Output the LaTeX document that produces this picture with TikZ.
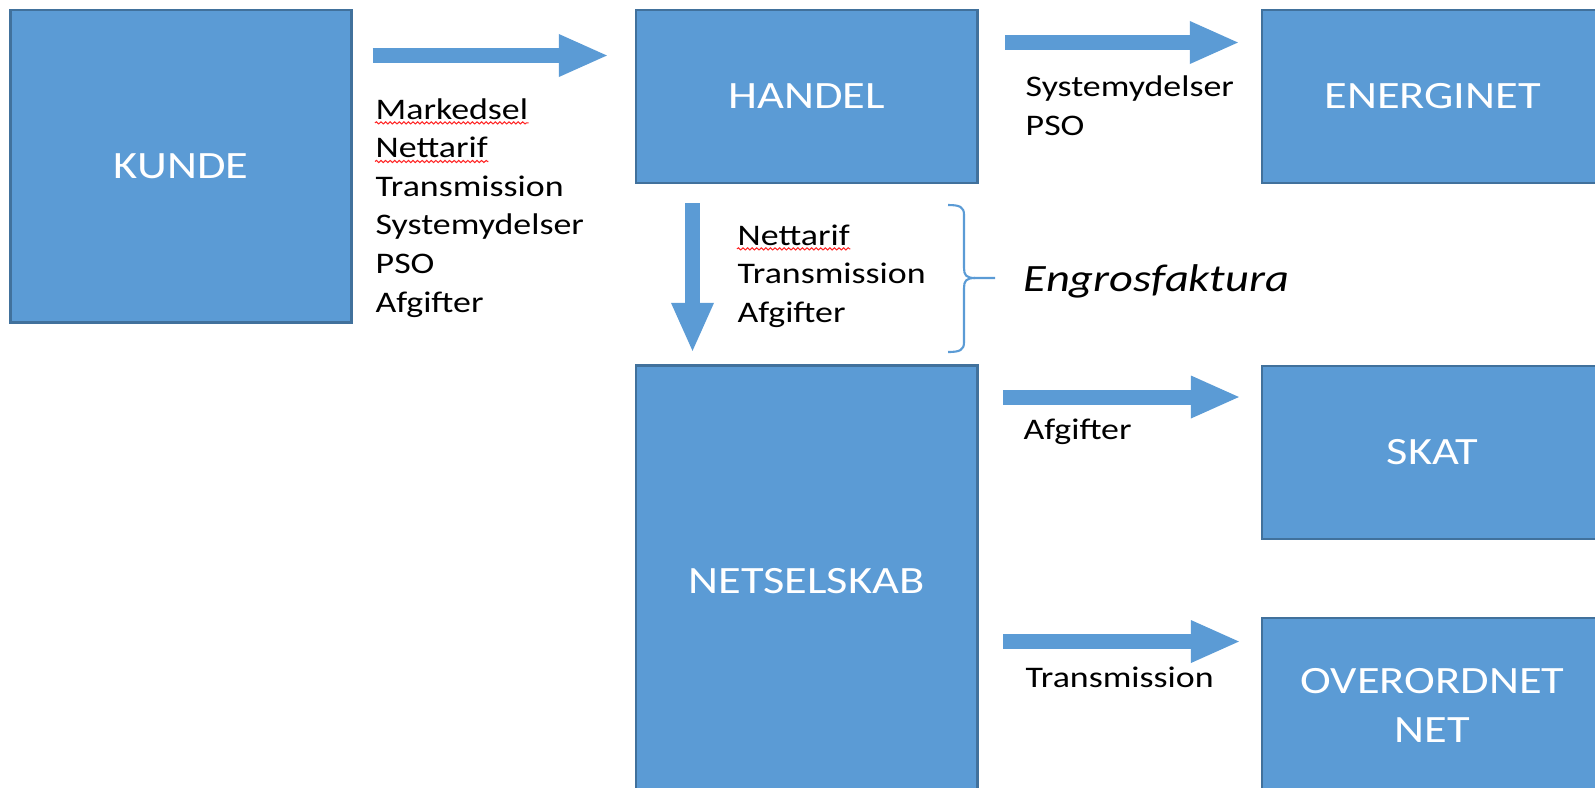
\documentclass[tikz,border=0pt]{standalone}
\usepackage{fontspec}
\setmainfont{Carlito}[FakeStretch=1.2]
\usetikzlibrary{arrows.meta,decorations.pathmorphing}
\definecolor{boxblue}{HTML}{5B9BD5}
\definecolor{boxline}{HTML}{41719C}

\begin{document}
\begin{tikzpicture}[x=0.01cm, y=-0.01cm,
		box_style/.style={rectangle,draw=boxline,line width=0.8pt,fill=boxblue,text=white,align=center,outer sep=0pt,minimum width=3.41cm,font=\fontsize{11}{13.9}\selectfont},
		label_style/.style={anchor=base west,inner sep=0pt,font=\fontsize{8.5}{11}\selectfont},
		flow_style/.style={draw=boxblue,line width=0.15cm,-{Triangle[width=0.43cm,length=0.48cm,line width=0pt]}},
		spell_style/.style={draw=red!85!white,line width=0.3pt,decorate,decoration={snake,amplitude=0.3pt,segment length=1.3pt}},
		brace_style/.style={draw=boxblue,line width=0.6pt}]
		
		\useasboundingbox (0,0) rectangle (1595,787);
		\clip (0,0) rectangle (1595,787);
		
		\node[box_style,minimum height=3.12cm] (kunde) at (181,166) {KUNDE};
		\node[box_style,minimum height=1.73cm] (handel) at (806.5,96.5) {HANDEL};
		\node[box_style,minimum height=1.73cm] (energinet) at (1432.5,96.5) {ENERGINET};
		\node[box_style,minimum height=4.30cm] (netselskab) at (806.5,581) {NETSELSKAB};
		\node[box_style,minimum height=1.73cm] (skat) at (1432.5,452.5) {SKAT};
		\node[box_style,minimum height=1.75cm] (overordnet) at (1432.5,705.5) {OVERORDNET\\NET};
		
		\draw[flow_style,shorten <=0.21cm,shorten >=0.29cm] (kunde.east |- 0,55.5) -- (handel.west |- 0,55.5);
		\draw[flow_style,shorten <=0.28cm,shorten >=0.24cm] (handel.east |- 0,42.5) -- (energinet.west |- 0,42.5);
		\draw[flow_style,shorten <=0.20cm,shorten >=0.15cm] (handel.south -| 692.5,0) -- (netselskab.north -| 692.5,0);
		\draw[flow_style,shorten <=0.26cm,shorten >=0.23cm] (netselskab.east |- 0,397) -- (skat.west |- 0,397);
		\draw[flow_style,shorten <=0.26cm,shorten >=0.23cm] (netselskab.east |- 0,641.5) -- (overordnet.west |- 0,641.5);
		
		\foreach \t [count=\i] in {Markedsel,Nettarif,Transmission,Systemydelser,PSO,Afgifter}
			\node[label_style] (kl\i) at (375,{119+38.6*(\i-1)}) {\t};
		\foreach \t [count=\i] in {Systemydelser,PSO}
			\node[label_style] (hl\i) at (1025,{96.5+38.5*(\i-1)}) {\t};
		\foreach \t [count=\i] in {Nettarif,Transmission,Afgifter}
			\node[label_style] (nl\i) at (737,{245+38.5*(\i-1)}) {\t};
		\node[label_style] (sl) at (1023,439) {Afgifter};
		\node[label_style] (ol) at (1025,687) {Transmission};
		
		\draw[spell_style] ([yshift=-1.1pt]kl1.base west) -- ([yshift=-1.1pt]kl1.base east);
		\draw[spell_style] ([yshift=-1.1pt]kl2.base west) -- ([yshift=-1.1pt]kl2.base east);
		\draw[spell_style] ([yshift=-1.1pt]nl1.base west) -- ([yshift=-1.1pt]nl1.base east);
		
		\coordinate (btip) at (995,278);
		\draw[brace_style] (948,205) .. controls (960,205) and (964,207) .. (964,215) -- (964,268) .. controls (964,275) and (966,278) .. (975,278) -- (btip);
		\draw[brace_style] (975,278) .. controls (966,278) and (964,281) .. (964,288) -- (964,342) .. controls (964,350) and (960,352) .. (948,352);
		\node[anchor=base west,inner sep=0pt,font=\fontsize{11}{13}\selectfont\itshape] (engros) at (1023,291) {Engrosfaktura};
		
\end{tikzpicture}
\end{document}
